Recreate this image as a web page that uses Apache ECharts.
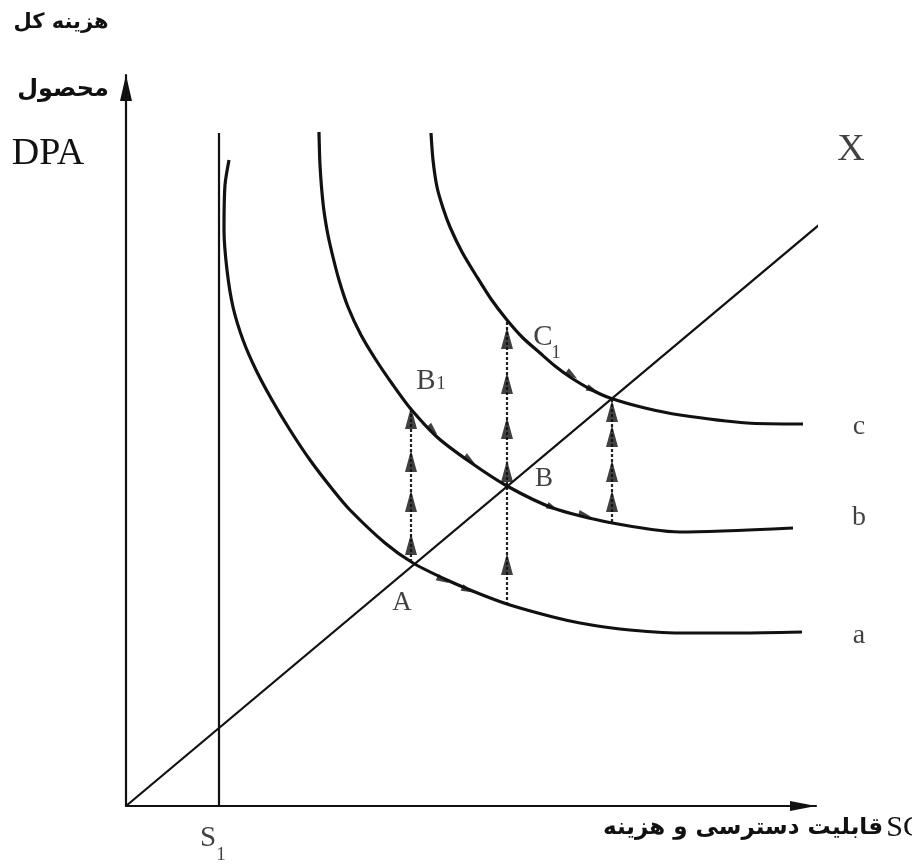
<!DOCTYPE html>
<html><head><meta charset="utf-8">
<script src="https://cdn.jsdelivr.net/npm/echarts/dist/echarts.min.js"></script>
<style>html,body{margin:0;padding:0;background:#fff}#c{width:912px;height:865px}</style>
</head><body><div id="c"></div>
<script>
// ---- data (x: SC, y: DPA) ----
const curveA = [[103,646],[99,621],[98,576],[101,536],[107,499],[117,466],[130,436],[146,406],[164,376],[184,346],[207,316],[224,296],[259,263],[287,243],[321,226],[354,212],[384,201],[427,189],[454,183],[494,177],[554,173],[614,173],[676,174]];
const curveB = [[193,674],[194,641],[197,603],[201,576],[206,553],[213,526],[222,499],[235,471],[250,446],[267,421],[284,398],[311,369],[344,344],[381,320],[427,298],[481,284],[554,274],[667,278]];
const curveC = [[305,673],[307,646],[311,619],[317,598],[324,579],[336,554],[351,529],[365,507],[381,486],[397,468],[414,453],[429,440],[444,429],[464,417],[484,408],[519,398],[554,391],[621,383],[677,382]];
const lineX = [[0,0],[712,597]];
const lineS1 = [[93,0],[93,673]];
const guideA = [[285,244],[285,399]];
const guideB = [[381,201],[381,486]];
const guideC = [[486,284],[486,408]];
const tipsA = [399,356,316,273];
const tipsB = [479,434,389,346,253];
const tipsC = [406,381,346,316];
const flowA = [[317,226],[342,216]];
const flowB = [[307,376],[344,346],[427,298],[459,291]];
const flowC = [[446,431],[467,416]];
const letterNames = ['A','B','X','a','b','c'];
const letterAt = [[276,203],[418,327],[725,656],[733,170],[733,288],[733,379]];
const subMain = ['B','C','S'];
const subMainAt = [[300,425],[417,469],[82,-32]];
const subIdx = ['1','1','1'];
const subIdxAt = [[315,422],[430,453],[95,-49]];
const xMax = 690, yMax = 731;

function dirAt(curve, p) {
  let best = null, bd = Infinity;
  for (let i = 0; i < curve.length - 1; i++) {
    const a = curve[i], b = curve[i+1];
    const mx = (a[0]+b[0])/2, my = (a[1]+b[1])/2;
    const d = (mx-p[0])**2 + (my-p[1])**2;
    if (d < bd) { bd = d; best = [b[0]-a[0], b[1]-a[1]]; }
  }
  return Math.atan2(best[1], best[0]) * 180 / Math.PI - 90;
}

const black = '#111';
const curveStyle = {color: black, width: 3.2};
function curveSeries(d) {
  return {type:'line', data:d, smooth:0.25, showSymbol:false, clip:false, lineStyle:curveStyle, silent:true, z:3};
}
function guideSeries(d) {
  return {type:'line', data:d, showSymbol:false, clip:false, lineStyle:{color:'#222', width:2.2, type:[3,2]}, silent:true, z:2};
}
function tipSeries(x, tips) {
  return {type:'scatter', data:tips.map(y=>[x,y]), symbol:'triangle', symbolSize:[12,22], symbolOffset:[0,11], itemStyle:{color:'#111'}, clip:false, silent:true, z:4};
}
function flowSeries(curve, pts) {
  return {type:'scatter', clip:false, silent:true, z:4,
    data: pts.map(p=>({value:p, symbolRotate: dirAt(curve, p)})),
    symbol:'triangle', symbolSize:[7,13], itemStyle:{color:'#111'}};
}
const serif = '"Liberation Serif","DejaVu Serif",serif';
function labelSeries(names, at, size) {
  return {type:'scatter', clip:false, silent:true, symbolSize:0, z:5,
    data: names.map((n,i)=>({value:at[i], name:n})),
    label:{show:true, position:'inside', formatter:'{b}', color:'#111', fontFamily:serif, fontSize:size}};
}

const chart = echarts.init(document.getElementById('c'), null, {renderer:'canvas'});
chart.setOption({
  backgroundColor:'#fff',
  animation:false,
  grid:{left:126, top:75, width:xMax, height:yMax},
  xAxis:{type:'value', min:0, max:xMax, splitLine:{show:false}, axisTick:{show:false}, axisLabel:{show:false},
    axisLine:{lineStyle:{color:black, width:2.2}, symbol:['none','triangle'], symbolSize:[10,26], symbolOffset:[0,-13]}},
  yAxis:{type:'value', min:0, max:yMax, splitLine:{show:false}, axisTick:{show:false}, axisLabel:{show:false},
    axisLine:{lineStyle:{color:black, width:2.2}, symbol:['none','triangle'], symbolSize:[12,26], symbolOffset:[0,-13]}},
  series:[
    curveSeries(curveA), curveSeries(curveB), curveSeries(curveC),
    {type:'line', data:lineX, showSymbol:false, clip:false, lineStyle:{color:black, width:2.2}, silent:true, z:3},
    {type:'line', data:lineS1, showSymbol:false, clip:false, lineStyle:{color:black, width:2.2}, silent:true, z:3},
    guideSeries(guideA), guideSeries(guideB), guideSeries(guideC),
    tipSeries(guideA[0][0], tipsA), tipSeries(guideB[0][0], tipsB), tipSeries(guideC[0][0], tipsC),
    flowSeries(curveA, flowA), flowSeries(curveB, flowB), flowSeries(curveC, flowC),
    labelSeries(letterNames.slice(0,2), letterAt.slice(0,2), 27),
    labelSeries(letterNames.slice(2,3), letterAt.slice(2,3), 38),
    labelSeries(letterNames.slice(3), letterAt.slice(3), 28),
    labelSeries(subMain, subMainAt, 29),
    labelSeries(subIdx, subIdxAt, 19)
  ],
  graphic:[
    {type:'text', x:61, y:23, style:{text:'هزینه کل', font:'bold 21px "DejaVu Sans"', fill:'#111', align:'center', verticalAlign:'middle'}},
    {type:'text', x:63, y:90, style:{text:'محصول', font:'bold 24px "DejaVu Sans"', fill:'#111', align:'center', verticalAlign:'middle'}},
    {type:'text', x:48, y:154, style:{text:'DPA', font:'38px "Liberation Serif"', fill:'#111', align:'center', verticalAlign:'middle'}},
    {type:'text', x:603, y:828, style:{text:'{p|قابلیت دسترسی و هزینه} {s|SC}', align:'left', verticalAlign:'middle',
      rich:{p:{font:'bold 23px "DejaVu Sans"', fill:'#111'}, s:{font:'30px "Liberation Serif"', fill:'#111'}}}}
  ]
});
</script></body></html>
